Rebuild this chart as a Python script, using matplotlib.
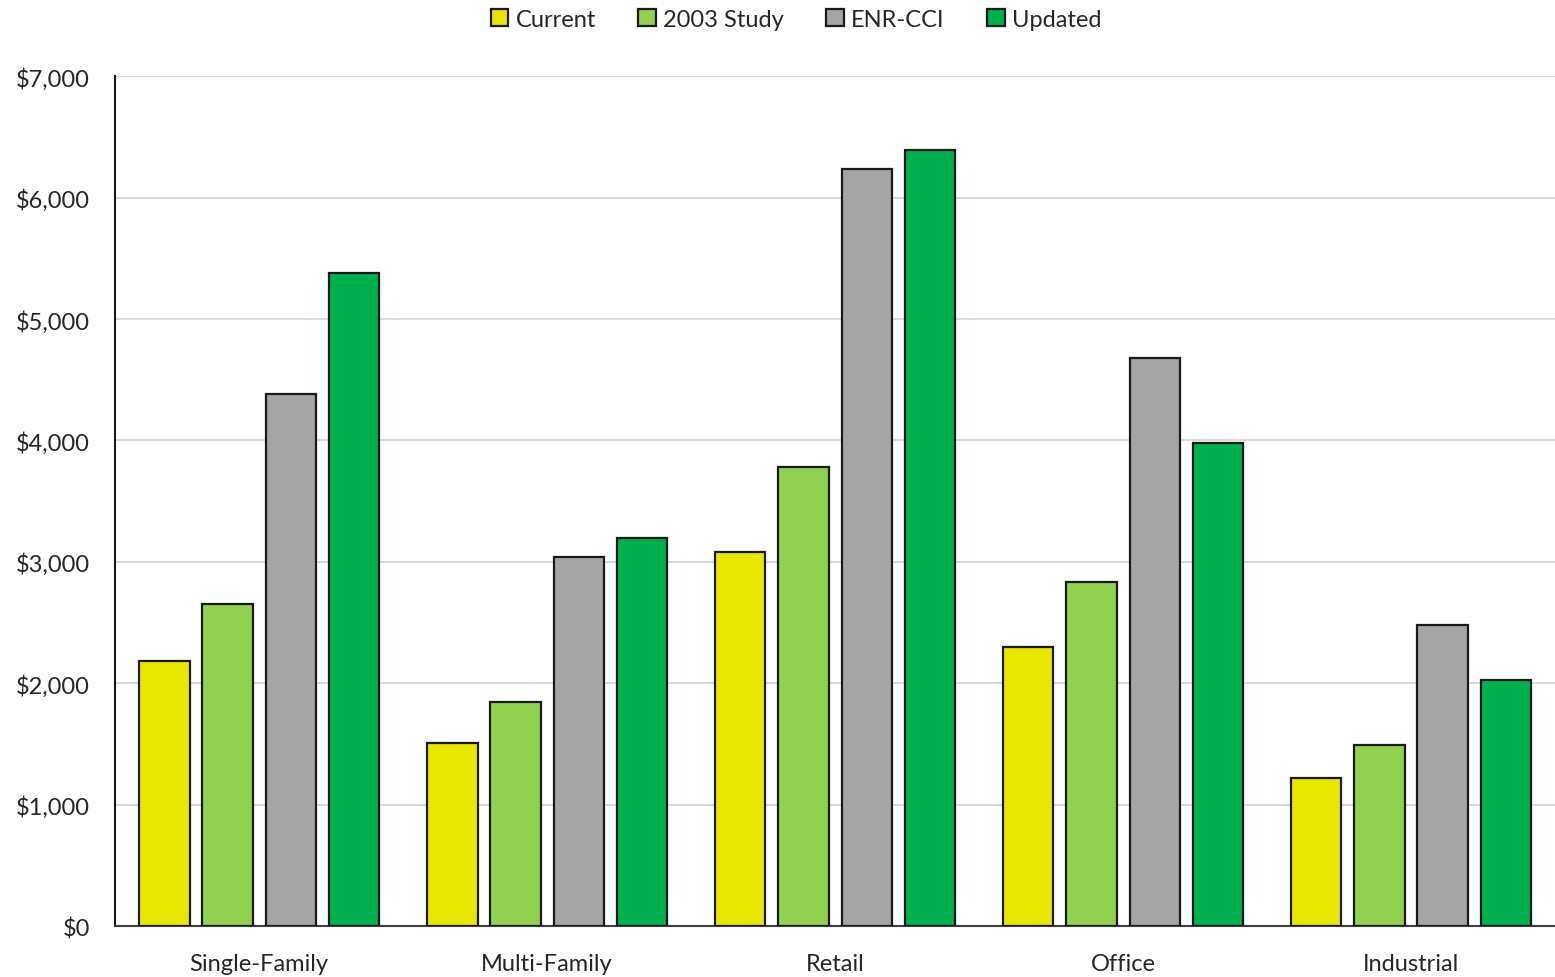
import numpy as np
import matplotlib.pyplot as plt
from matplotlib.ticker import FuncFormatter

plt.rcParams['font.family'] = ['Lato', 'DejaVu Sans']

categories = ['Single-Family', 'Multi-Family', 'Retail', 'Office', 'Industrial']
series = ['Current', '2003 Study', 'ENR-CCI', 'Updated']
current = [2180, 1510, 3080, 2300, 1220]
study_2003 = [2650, 1845, 3780, 2835, 1490]
enr_cci = [4380, 3040, 6240, 4680, 2480]
updated = [5380, 3200, 6390, 3980, 2025]
colors = ['#E8E600', '#92D050', '#A5A5A5', '#00B050']

fig = plt.figure(figsize=(15.55, 9.78), dpi=100)
ax = fig.add_axes([0.074, 0.052, 0.926, 0.869])

x = np.arange(len(categories))
pitch = 0.219
width = 0.174
for i, (name, vals, c) in enumerate(zip(series, [current, study_2003, enr_cci, updated], colors)):
    ax.bar(x + (i - 1.5) * pitch, vals, width, color=c, edgecolor='#1a1a1a',
           linewidth=1.6, label=name, zorder=3)

ax.set_xlim(-0.5, len(categories) - 0.5)
ax.set_ylim(0, 7000)
ax.set_yticks(range(0, 7001, 1000))
ax.yaxis.set_major_formatter(FuncFormatter(lambda v, p: f'${v:,.0f}'))
ax.set_xticks(x)
ax.set_xticklabels(categories)
ax.grid(axis='y', color='#D9D9D9', linewidth=1.5, zorder=0)
ax.tick_params(axis='both', length=0, labelsize=17, colors='#262626')
ax.tick_params(axis='x', pad=19)
ax.tick_params(axis='y', pad=18)

for s in ['top', 'right']:
    ax.spines[s].set_visible(False)
ax.spines['left'].set_color('#1a1a1a')
ax.spines['left'].set_linewidth(1.5)
ax.spines['bottom'].set_color('#404040')
ax.spines['bottom'].set_linewidth(1.5)

leg = fig.legend(loc='upper center', bbox_to_anchor=(0.512, 1.012), ncol=4, frameon=False,
                 fontsize=17, handlelength=0.75, handleheight=0.75, handletextpad=0.3,
                 columnspacing=1.8)
for t in leg.get_texts():
    t.set_color('#262626')

fig.savefig('out.png', dpi=100)
